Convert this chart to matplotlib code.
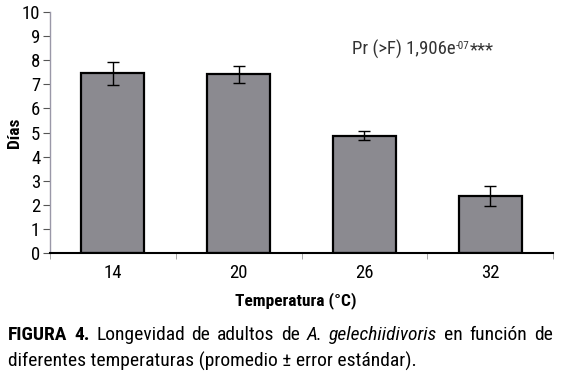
import matplotlib
matplotlib.use('Agg')
from matplotlib import pyplot as plt
from matplotlib import font_manager
import numpy as np

temperaturas = ['14', '20', '26', '32']
dias = [7.45, 7.42, 4.87, 2.37]
error = [0.47, 0.36, 0.20, 0.40]

names = set(f.name for f in font_manager.fontManager.ttflist)
fam = 'Liberation Sans'
for f in ['Roboto Condensed', 'Liberation Sans Narrow', 'Nimbus Sans Narrow',
          'Archivo Narrow', 'Asap Condensed']:
    if f in names:
        fam = f
        break
plt.rcParams['font.family'] = [fam, 'DejaVu Sans']

W, H = 561, 378
fig = plt.figure(figsize=(W / 100, H / 100), dpi=100)
ax = fig.add_axes([50 / W, 1 - 253 / H, (553 - 50) / W, (253 - 12) / H])

x = np.arange(len(temperaturas))
ax.bar(x, dias, width=0.5, color='#8b8a90', edgecolor='black', linewidth=1.6, zorder=2)
ax.errorbar(x, dias, yerr=error, fmt='none', ecolor='black', elinewidth=1,
            capsize=4.5, capthick=1, zorder=3)

ax.set_xlim(-0.5, 3.5)
ax.set_ylim(0, 10)
ax.set_yticks(range(0, 11))
ax.set_xticks(x)
ax.set_xticklabels(temperaturas)
ax.set_xticks(np.arange(-0.5, 4, 1), minor=True)
ax.tick_params(axis='x', which='major', length=0, labelsize=13.5, pad=8)
ax.tick_params(axis='x', which='minor', length=4, color='#999999', direction='out')
ax.tick_params(axis='y', length=5, color='#555555', labelsize=13.5, pad=2)
for s in ['top', 'right']:
    ax.spines[s].set_visible(False)
ax.spines['left'].set_color('#9a98a8')
ax.spines['left'].set_linewidth(1)
ax.spines['bottom'].set_linewidth(1.5)

fig.text(15 / W, 1 - 133 / H, 'Días', rotation=90, fontsize=12.5, fontweight='bold',
         ha='center', va='center')
fig.text(296 / W, 1 - 301 / H, 'Temperatura (°C)', fontsize=12.5, fontweight='bold',
         ha='center', va='center')

fig.canvas.draw()
r = fig.canvas.get_renderer()


def width_px(s, **kw):
    t = fig.text(0, 0, s, **kw)
    w = t.get_window_extent(renderer=r).width
    t.remove()
    return w


# annotation with superscript
runs = [('Pr (>F) 1,906e', 13.5, 0), ('-07', 8, 6), ('***', 13.5, 0)]
px = 352
for s, fs, dy in runs:
    fig.text(px / W, 1 - (55 - dy) / H, s, fontsize=fs, color='#333333',
             ha='left', va='baseline')
    px += width_px(s, fontsize=fs)

# caption, first line justified
words = [('FIGURA', 'bold', 'normal'), ('4.', 'bold', 'normal'),
         ('Longevidad', 'normal', 'normal'), ('de', 'normal', 'normal'),
         ('adultos', 'normal', 'normal'), ('de', 'normal', 'normal'),
         ('A.', 'normal', 'italic'), ('gelechiidivoris', 'normal', 'italic'),
         ('en', 'normal', 'normal'), ('función', 'normal', 'normal'),
         ('de', 'normal', 'normal')]
cfs = 14
ws = [width_px(w, fontsize=cfs, fontweight=b, fontstyle=st) for w, b, st in words]
x0, x1 = 8, 553
gap = (x1 - x0 - sum(ws)) / (len(words) - 1)
px = x0
for (w, b, st), wd in zip(words, ws):
    fig.text(px / W, 1 - 340 / H, w, fontsize=cfs, fontweight=b, fontstyle=st,
             ha='left', va='baseline')
    px += wd + gap
fig.text(x0 / W, 1 - 367 / H, 'diferentes temperaturas (promedio ± error estándar).',
         fontsize=cfs, ha='left', va='baseline')

fig.savefig('out.png', dpi=100)
